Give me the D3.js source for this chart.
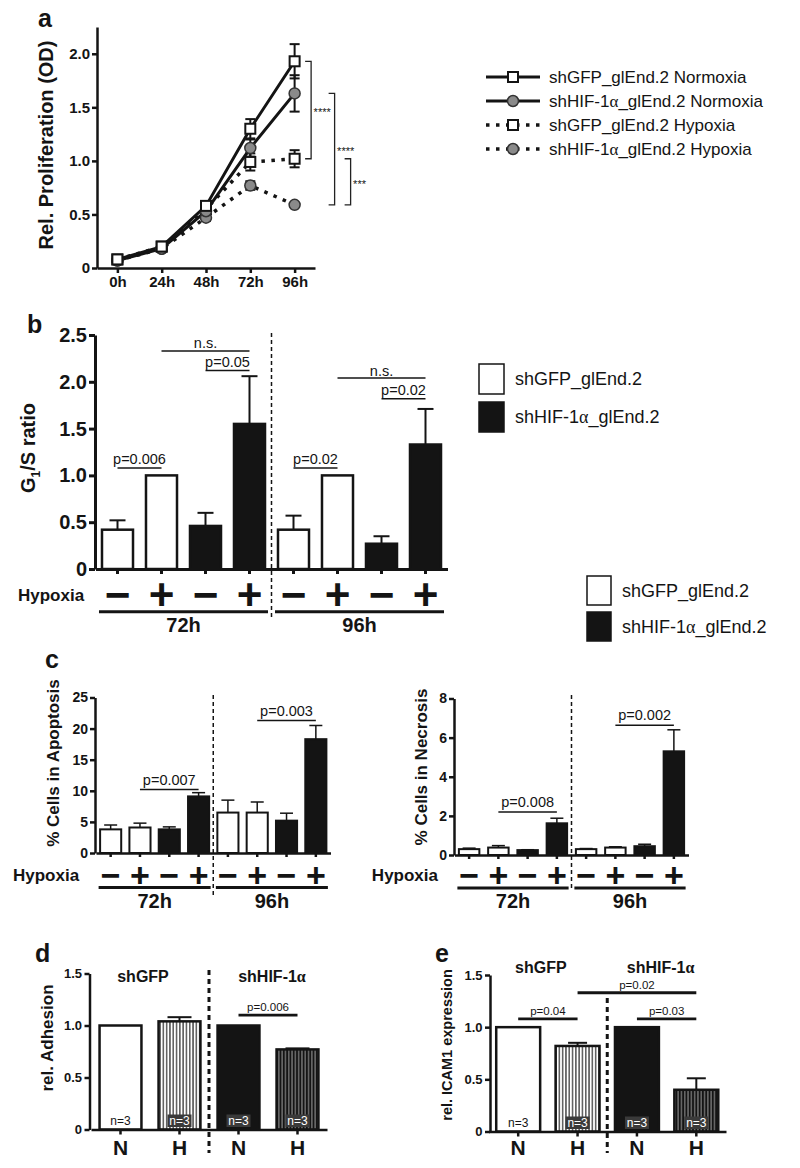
<!DOCTYPE html>
<html><head><meta charset="utf-8">
<script src="https://cdn.jsdelivr.net/npm/d3@7"></script>
<style>body{margin:0;background:#fff} svg{display:block}</style>
</head><body><svg id="fig" width="800" height="1168"></svg>
<script>
// ---------------- DATA ----------------
// Panel a: proliferation time course
const timepoints = ["0h", "24h", "48h", "72h", "96h"];
const prolifNames = ["shGFP_glEnd.2 Normoxia", "shHIF-1α_glEnd.2 Normoxia", "shGFP_glEnd.2 Hypoxia", "shHIF-1α_glEnd.2 Hypoxia"];
const gfpNormoxia   = [0.08, 0.20, 0.58, 1.30, 1.93];
const gfpNormoxiaSd = [0.01, 0.02, 0.03, 0.09, 0.16];
const hifNormoxia   = [0.07, 0.18, 0.53, 1.12, 1.63];
const hifNormoxiaSd = [0.01, 0.02, 0.03, 0.08, 0.17];
const gfpHypoxia    = [0.08, 0.20, 0.55, 0.99, 1.02];
const gfpHypoxiaSd  = [0.01, 0.02, 0.03, 0.08, 0.08];
const hifHypoxia    = [0.07, 0.18, 0.47, 0.77, 0.59];
const hifHypoxiaSd  = [0.01, 0.02, 0.03, 0.04, 0.02];
const prolifTicks = [0, 0.5, 1.0, 1.5, 2.0];
const prolifSig = [{a: 0, b: 2, label: "****"}, {a: 1, b: 3, label: "****"}, {a: 2, b: 3, label: "***"}];

// Panels b, c: groups / hypoxia conditions
const groupNames = ["shGFP_glEnd.2", "shHIF-1α_glEnd.2"];
const barGroup = [0, 0, 1, 1, 0, 0, 1, 1];
const hypoxiaSign = ["−", "+", "−", "+", "−", "+", "−", "+"];
const timeGroups = ["72h", "96h"];

// Panel b: G1/S ratio
const g1sRatio = [0.42, 1.00, 0.46, 1.55, 0.42, 1.00, 0.27, 1.33];
const g1sSd    = [0.10, 0.00, 0.14, 0.51, 0.15, 0.00, 0.08, 0.38];
const g1sTicks = [0, 0.5, 1.0, 1.5, 2.0, 2.5];
const g1sTests = [
  {from: 0, to: 1, level: 1.08, label: "p=0.006"},
  {from: 1, to: 3, level: 2.33, label: "n.s."},
  {from: 2, to: 3, level: 2.12, label: "p=0.05"},
  {from: 4, to: 5, level: 1.08, label: "p=0.02"},
  {from: 5, to: 7, level: 2.04, label: "n.s."},
  {from: 6, to: 7, level: 1.82, label: "p=0.02"}
];

// Panel c: apoptosis / necrosis
const apoptosis   = [3.8, 4.1, 3.8, 9.1, 6.5, 6.5, 5.2, 18.3];
const apoptosisSd = [0.7, 0.7, 0.4, 0.6, 2.0, 1.7, 1.2, 2.2];
const apoptosisTicks = [0, 5, 10, 15, 20, 25];
const apoptosisTests = [{from: 1, to: 3, level: 10.2, label: "p=0.007"}, {from: 5, to: 7, level: 21.3, label: "p=0.003"}];
const necrosis   = [0.30, 0.38, 0.25, 1.62, 0.30, 0.38, 0.45, 5.30];
const necrosisSd = [0.05, 0.10, 0.02, 0.26, 0.03, 0.04, 0.10, 1.10];
const necrosisTicks = [0, 2, 4, 6, 8];
const necrosisTests = [{from: 1, to: 3, level: 2.2, label: "p=0.008"}, {from: 5, to: 7, level: 6.63, label: "p=0.002"}];

// Panels d, e
const treatments = ["N", "H", "N", "H"];
const knockdowns = ["shGFP", "shHIF-1α"];
const nLabels = ["n=3", "n=3", "n=3", "n=3"];
const adhesion   = [1.00, 1.04, 1.00, 0.77];
const adhesionSd = [0.00, 0.04, 0.00, 0.01];
const adhesionTests = [{from: 2, to: 3, level: 1.10, label: "p=0.006"}];
const icam1   = [1.00, 0.82, 1.00, 0.40];
const icam1Sd = [0.00, 0.03, 0.00, 0.11];
const icam1Tests = [
  {from: 0, to: 1, level: 1.08, label: "p=0.04"},
  {from: 2, to: 3, level: 1.08, label: "p=0.03"},
  {from: 1, to: 3, level: 1.33, label: "p=0.02"}
];
const ratioTicks = [0, 0.5, 1.0, 1.5];

// ---------------- DRAWING ----------------
const FONT = '"Liberation Sans", Arial, Helvetica, sans-serif';
const BLACK = "#141414";
const GRAY = "#8a8a8a";
const svg = d3.select("#fig").attr("font-family", FONT);
const defs = svg.append("defs");

function pattern(id, bg, fg) {
  const p = defs.append("pattern").attr("id", id).attr("patternUnits", "userSpaceOnUse")
    .attr("width", 3.3).attr("height", 10);
  p.append("rect").attr("width", 3.3).attr("height", 10).attr("fill", bg);
  p.append("rect").attr("x", 1.1).attr("width", 1.1).attr("height", 10).attr("fill", fg);
}
pattern("hatchW", "#fff", BLACK);
pattern("hatchB", BLACK, "#8c8c8c");

const fmt1 = v => v === 0 ? "0" : d3.format(".1f")(v);
const fmtInt = d3.format("d");

function yAxis(g, y, ticks, fmt, o) {
  const a = g.append("g").attr("transform", `translate(${o.x},0)`)
    .call(d3.axisLeft(y).tickValues(ticks).tickFormat(fmt).tickSizeInner(o.tick).tickSizeOuter(0).tickPadding(o.pad));
  a.select(".domain").attr("stroke", BLACK).attr("stroke-width", o.sw);
  a.selectAll(".tick line").attr("stroke", BLACK).attr("stroke-width", o.sw);
  a.selectAll(".tick text").attr("font-family", FONT).attr("font-weight", "bold")
    .attr("font-size", o.fs).attr("fill", BLACK);
  return a;
}
function xAxis(g, x, yPos, o) {
  const a = g.append("g").attr("transform", `translate(0,${yPos})`)
    .call(d3.axisBottom(x).tickFormat(o.fmt || "").tickSizeInner(o.tick).tickSizeOuter(0).tickPadding(o.pad || 3));
  a.select(".domain").attr("stroke", BLACK).attr("stroke-width", o.sw);
  a.selectAll(".tick line").attr("stroke", BLACK).attr("stroke-width", o.tsw || o.sw);
  a.selectAll(".tick text").attr("font-family", FONT).attr("font-weight", "bold")
    .attr("font-size", o.fs || 12).attr("fill", BLACK);
  return a;
}
function rotLabel(g, x, y, fs, txt) {
  return g.append("text").attr("transform", `translate(${x},${y}) rotate(-90)`)
    .attr("text-anchor", "middle").attr("font-weight", "bold").attr("font-size", fs)
    .attr("fill", BLACK).text(txt);
}
function panelLetter(x, y, t) {
  svg.append("text").attr("x", x).attr("y", y).attr("font-weight", "bold").attr("font-size", 25)
    .attr("fill", BLACK).text(t);
}
function alphaText(sel, txt) {
  const parts = txt.split("α");
  parts.forEach((p, i) => {
    if (p) sel.append("tspan").text(p);
    if (i < parts.length - 1) sel.append("tspan").attr("font-family", '"Liberation Serif", "DejaVu Serif", serif').text("α");
  });
  return sel;
}

// Generic bar panel
function barPanel(c) {
  const g = svg.append("g");
  const x = d3.scaleBand().domain(d3.range(c.values.length)).range(c.xRange)
    .paddingInner(c.pad).paddingOuter(c.pad / 2);
  const y = d3.scaleLinear().domain([0, c.yMax]).range(c.yRange);
  const bw = x.bandwidth();
  c.values.forEach((v, i) => {
    const e = c.err[i];
    if (!e) return;
    const cx = x(i) + bw / 2;
    g.append("line").attr("x1", cx).attr("x2", cx).attr("y1", y(v)).attr("y2", y(v + e))
      .attr("stroke", BLACK).attr("stroke-width", c.esw);
    g.append("line").attr("x1", cx - c.cap / 2).attr("x2", cx + c.cap / 2).attr("y1", y(v + e)).attr("y2", y(v + e))
      .attr("stroke", BLACK).attr("stroke-width", c.esw);
  });
  g.selectAll("rect.bar").data(c.values).join("rect").attr("class", "bar")
    .attr("x", (d, i) => x(i)).attr("width", bw)
    .attr("y", d => y(d)).attr("height", d => y(0) - y(d))
    .attr("fill", (d, i) => c.fills[i]).attr("stroke", BLACK).attr("stroke-width", c.sw);
  yAxis(g, y, c.ticks, c.fmt, {x: c.axisX, tick: c.ytick, pad: c.ypad, sw: c.asw, fs: c.yfs});
  xAxis(g, x, y(0), {tick: c.xtick, sw: c.asw, tsw: c.asw});
  (c.tests || []).forEach(t => {
    const xa = x(t.from) + bw / 2, xb = x(t.to) + bw / 2, ly = y(t.level);
    g.append("line").attr("x1", xa).attr("x2", xb).attr("y1", ly).attr("y2", ly)
      .attr("stroke", BLACK).attr("stroke-width", c.tsw);
    g.append("text").attr("x", (xa + xb) / 2).attr("y", ly - (t.label === "n.s." ? c.nsGap : c.pGap))
      .attr("text-anchor", "middle").attr("font-size", c.tfs).attr("fill", BLACK).text(t.label);
  });
  const k = c.divAfter;
  const dx = (x(k) + bw + x(k + 1)) / 2;
  g.append("line").attr("x1", dx).attr("x2", dx).attr("y1", c.divY[0]).attr("y2", c.divY[1])
    .attr("stroke", BLACK).attr("stroke-width", c.dsw).attr("stroke-dasharray", c.dash);
  return {g, x, y, bw};
}

function hypoxiaRow(p, c) {
  const {g, x, bw} = p;
  g.append("text").attr("x", c.labelX).attr("y", c.rowY + 0.36 * c.labelFs)
    .attr("text-anchor", c.anchor).attr("font-weight", "bold").attr("font-size", c.labelFs)
    .attr("fill", BLACK).text("Hypoxia");
  g.selectAll("text.sign").data(hypoxiaSign).join("text").attr("class", "sign")
    .attr("x", (d, i) => x(i) + bw / 2).attr("y", c.rowY + 0.345 * c.signFs)
    .attr("text-anchor", "middle").attr("font-weight", "bold").attr("font-size", c.signFs)
    .attr("fill", BLACK).text(d => d);
  timeGroups.forEach((t, k) => {
    const xa = x(k * 4) - c.ext, xb = x(k * 4 + 3) + bw + c.ext;
    g.append("line").attr("x1", xa).attr("x2", xb).attr("y1", c.lineY).attr("y2", c.lineY)
      .attr("stroke", BLACK).attr("stroke-width", 3);
    g.append("text").attr("x", (xa + xb) / 2).attr("y", c.timeY).attr("text-anchor", "middle")
      .attr("font-weight", "bold").attr("font-size", c.timeFs).attr("fill", BLACK).text(t);
  });
}

function squareLegend(x0, y0, rowH, boxW, boxH, fs) {
  groupNames.forEach((name, i) => {
    svg.append("rect").attr("x", x0).attr("y", y0 + i * rowH).attr("width", boxW).attr("height", boxH)
      .attr("fill", i === 0 ? "#fff" : BLACK).attr("stroke", BLACK).attr("stroke-width", 1.5);
    const t = svg.append("text").attr("x", x0 + boxW + 11).attr("y", y0 + i * rowH + boxH / 2 + 0.36 * fs)
      .attr("font-size", fs).attr("fill", BLACK);
    alphaText(t, name);
  });
}

// ---------- Panel a ----------
(function () {
  const g = svg.append("g");
  const x = d3.scalePoint().domain(timepoints).range([97, 315]).padding(0.46);
  const y = d3.scaleLinear().domain([0, 2.25]).range([268, 27]);
  const series = [
    {v: gfpNormoxia, e: gfpNormoxiaSd, m: "square", dotted: false},
    {v: hifNormoxia, e: hifNormoxiaSd, m: "circle", dotted: false},
    {v: gfpHypoxia, e: gfpHypoxiaSd, m: "square", dotted: true},
    {v: hifHypoxia, e: hifHypoxiaSd, m: "circle", dotted: true}
  ];
  const line = d3.line().x((d, i) => x(timepoints[i])).y(d => y(d));
  const drawOrder = [3, 2, 1, 0];
  drawOrder.forEach(k => {
    const s = series[k];
    g.append("path").attr("d", line(s.v)).attr("fill", "none").attr("stroke", BLACK)
      .attr("stroke-width", s.dotted ? 3.5 : 3).attr("stroke-dasharray", s.dotted ? "3.5,6.5" : null);
  });
  drawOrder.forEach(k => {
    const s = series[k];
    s.v.forEach((v, i) => {
      const cx = x(timepoints[i]), e = s.e[i];
      g.append("line").attr("x1", cx).attr("x2", cx).attr("y1", y(v - e)).attr("y2", y(v + e))
        .attr("stroke", BLACK).attr("stroke-width", 2);
      [v - e, v + e].forEach(w => g.append("line").attr("x1", cx - 5).attr("x2", cx + 5)
        .attr("y1", y(w)).attr("y2", y(w)).attr("stroke", BLACK).attr("stroke-width", 2));
    });
  });
  function marker(sel, type, cx, cy) {
    if (type === "square") sel.append("rect").attr("x", cx - 5).attr("y", cy - 5).attr("width", 10).attr("height", 10)
      .attr("fill", "#fff").attr("stroke", BLACK).attr("stroke-width", 2);
    else sel.append("circle").attr("cx", cx).attr("cy", cy).attr("r", 5.5)
      .attr("fill", GRAY).attr("stroke", "#333").attr("stroke-width", 1.5);
  }
  drawOrder.forEach(k => {
    const s = series[k];
    s.v.forEach((v, i) => marker(g, s.m, x(timepoints[i]), y(v)));
  });
  yAxis(g, y, prolifTicks, fmt1, {x: 97, tick: 5, pad: 2, sw: 2.5, fs: 15});
  xAxis(g, x, 268, {tick: 5, sw: 2.5, fmt: d => d, fs: 15, pad: 3});
  rotLabel(g, 53, 145, 20, "Rel. Proliferation (OD)");
  const x96 = x("96h");
  const offs = [16.5, 40, 56];
  prolifSig.forEach((s, k) => {
    const ya = y(series[s.a].v[4]), yb = y(series[s.b].v[4]), xv = x96 + offs[k];
    g.append("path").attr("d", `M${xv - 6},${ya}H${xv}V${yb}H${xv - 6}`).attr("fill", "none")
      .attr("stroke", "#222").attr("stroke-width", 1.3);
    g.append("text").attr("x", xv + 2.5).attr("y", (ya + yb) / 2 + 6).attr("font-size", 11)
      .attr("fill", BLACK).text(s.label);
  });
  prolifNames.forEach((name, i) => {
    const ly = 77 + i * 24, s = series[i];
    g.append("line").attr("x1", 486).attr("x2", 540).attr("y1", ly).attr("y2", ly)
      .attr("stroke", BLACK).attr("stroke-width", s.dotted ? 3.5 : 3)
      .attr("stroke-dasharray", s.dotted ? "3.5,6.5" : null);
    marker(g, s.m, 513, ly);
    const t = g.append("text").attr("x", 549).attr("y", ly + 6).attr("font-size", 17).attr("fill", BLACK);
    alphaText(t, name);
  });
  panelLetter(38, 27, "a");
})();

// ---------- Panel b ----------
(function () {
  const fills = barGroup.map(k => k === 0 ? "#fff" : BLACK);
  const p = barPanel({
    values: g1sRatio, err: g1sSd, fills, xRange: [95.5, 447.5], pad: 0.295,
    yMax: 2.5, yRange: [569, 335], ticks: g1sTicks, fmt: fmt1, axisX: 95, ytick: 6, ypad: 2,
    asw: 3, yfs: 20, xtick: 5, sw: 2.5, esw: 2, cap: 16, tests: g1sTests, tsw: 1.5, tfs: 14.5,
    pGap: 4, nsGap: 2.5, divAfter: 3, divY: [333, 617], dsw: 1.5, dash: "4,3"
  });
  hypoxiaRow(p, {labelX: 18, anchor: "start", labelFs: 17, rowY: 595, signFs: 44, ext: 3,
    lineY: 611.7, timeY: 632, timeFs: 20});
  const t = rotLabel(p.g, 35, 448, 20, "");
  t.append("tspan").text("G");
  t.append("tspan").attr("font-size", 12).attr("dy", 5).text("1");
  t.append("tspan").attr("dy", -5).text("/S ratio");
  panelLetter(27, 333, "b");
  squareLegend(479, 364, 38, 25, 30, 18);
})();

// ---------- Panel c ----------
(function () {
  const fills = barGroup.map(k => k === 0 ? "#fff" : BLACK);
  const p1 = barPanel({
    values: apoptosis, err: apoptosisSd, fills, xRange: [96, 330.5], pad: 0.28,
    yMax: 25, yRange: [853, 697.5], ticks: apoptosisTicks, fmt: fmtInt, axisX: 95, ytick: 5, ypad: 2,
    asw: 2.5, yfs: 14, xtick: 4, sw: 2, esw: 1.5, cap: 13, tests: apoptosisTests, tsw: 1.5, tfs: 14.5,
    pGap: 5, nsGap: 2.5, divAfter: 3, divY: [695, 897], dsw: 1.5, dash: "4,3"
  });
  hypoxiaRow(p1, {labelX: 13, anchor: "start", labelFs: 17, rowY: 875, signFs: 34, ext: 1.5,
    lineY: 887.5, timeY: 908, timeFs: 20});
  rotLabel(p1.g, 59, 763, 17, "% Cells in Apoptosis");

  const p2 = barPanel({
    values: necrosis, err: necrosisSd, fills, xRange: [454.5, 688.5], pad: 0.3,
    yMax: 8, yRange: [855, 698.5], ticks: necrosisTicks, fmt: fmtInt, axisX: 454, ytick: 5, ypad: 2,
    asw: 2.5, yfs: 14, xtick: 4, sw: 2, esw: 1.5, cap: 13, tests: necrosisTests, tsw: 1.5, tfs: 14.5,
    pGap: 5, nsGap: 2.5, divAfter: 3, divY: [695, 888], dsw: 1.5, dash: "4,3"
  });
  hypoxiaRow(p2, {labelX: 438, anchor: "end", labelFs: 17, rowY: 875, signFs: 34, ext: 1.5,
    lineY: 888, timeY: 908, timeFs: 20});
  rotLabel(p2.g, 427, 767, 17, "% Cells in Necrosis");
  panelLetter(45, 668, "c");
  squareLegend(587, 576, 36, 24, 29, 18);
})();

// ---------- Panels d, e ----------
function nhPanel(c) {
  const fills = ["#fff", "url(#hatchW)", BLACK, "url(#hatchB)"];
  const p = barPanel({
    values: c.values, err: c.err, fills, xRange: c.xRange, pad: c.pad,
    yMax: 1.5, yRange: c.yRange, ticks: ratioTicks, fmt: fmt1, axisX: c.axisX, ytick: 5, ypad: 2.5,
    asw: 2.5, yfs: 13, xtick: 5, sw: 2.5, esw: 2, cap: c.cap, tests: c.tests, tsw: 2.8, tfs: 11.5,
    pGap: 4, nsGap: 4, divAfter: 1, divY: c.divY, dsw: 3, dash: "5,4"
  });
  const {g, x, y, bw} = p;
  nLabels.forEach((n, i) => {
    const cx = x(i) + bw / 2, base = y(0);
    if (i > 0) g.append("rect").attr("x", cx - 12).attr("y", base - 15).attr("width", 24).attr("height", 12.5)
      .attr("fill", "#3a3a3a");
    g.append("text").attr("x", cx).attr("y", base - 5).attr("text-anchor", "middle").attr("font-size", 12)
      .attr("fill", i > 0 ? "#fff" : BLACK).text(n);
  });
  treatments.forEach((t, i) => {
    g.append("text").attr("x", x(i) + bw / 2).attr("y", 1155).attr("text-anchor", "middle")
      .attr("font-weight", "bold").attr("font-size", 21).attr("fill", BLACK).text(t);
  });
  knockdowns.forEach((k, j) => {
    const gc = (x(j * 2) + x(j * 2 + 1) + bw) / 2 + c.headOff[j];
    const t = g.append("text").attr("x", gc).attr("y", c.headY).attr("text-anchor", "middle")
      .attr("font-weight", "bold").attr("font-size", 16).attr("fill", BLACK);
    alphaText(t, k);
  });
  return p;
}
(function () {
  const pd = nhPanel({values: adhesion, err: adhesionSd, xRange: [91, 327], pad: 0.29,
    yRange: [1129.5, 973.5], axisX: 89.5, cap: 24, tests: adhesionTests, divY: [970, 1153],
    headOff: [-7, 4], headY: 981.5});
  rotLabel(pd.g, 53, 1038, 17, "rel. Adhesion");
  panelLetter(35, 962, "d");
  const pe = nhPanel({values: icam1, err: icam1Sd, xRange: [488.5, 726], pad: 0.26,
    yRange: [1131.5, 975], axisX: 490, cap: 19, tests: icam1Tests, divY: [998, 1153],
    headOff: [-7, -6], headY: 973});
  rotLabel(pe.g, 452, 1045, 14.5, "rel. ICAM1 expression");
  panelLetter(435, 962, "e");
})();
</script></body></html>
